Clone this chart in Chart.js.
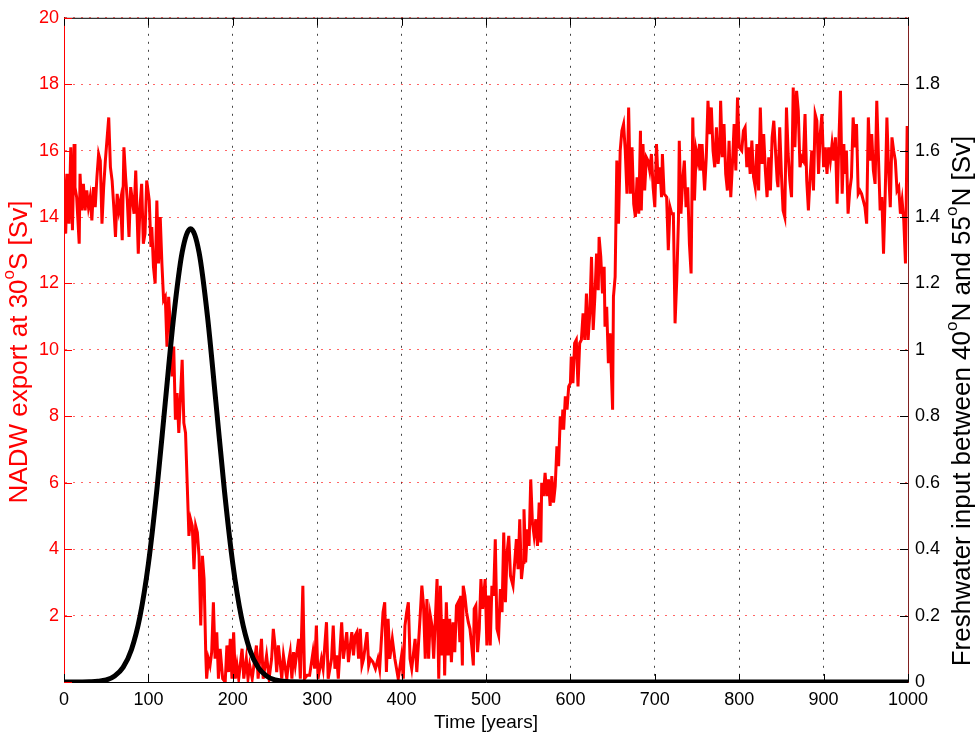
<!DOCTYPE html>
<html>
<head>
<meta charset="utf-8">
<script src="https://cdn.jsdelivr.net/npm/chart.js@4.4.1/dist/chart.umd.min.js"></script>
<style>
  body { margin: 0; background: #fff; }
  #wrap { width: 979px; height: 738px; position: relative; }
</style>
</head>
<body>
<div id="wrap"><canvas id="chart"></canvas></div>
<script>
// NADW export at 30S (Sv)
const nadwYears = [
  0, 2, 4, 6, 8, 10, 12, 13, 15, 18, 19, 21, 23, 25, 27, 29, 31, 33, 35, 37, 39, 41, 43, 45, 47, 49,
  53, 55, 57, 59, 61, 63, 65, 67, 69, 71, 73, 75, 77, 79, 81, 83, 85, 88, 90, 92, 94, 96, 98, 101,
  103, 104, 106, 108, 110, 112, 114, 116, 118, 120, 122, 124, 126, 128, 130, 132, 134, 136, 138, 140,
  142, 144, 148, 150, 152, 154, 156, 158, 160, 162, 164, 166, 168, 169, 171, 173, 175, 177, 179, 181,
  183, 185, 188, 191, 193, 195, 197, 199, 201, 203, 205, 207, 211, 213, 216, 218, 220, 223, 228, 230,
  234, 236, 240, 243, 246, 248, 250, 252, 254, 256, 258, 260, 264, 266, 268, 270, 272, 274, 278, 280,
  283, 285, 288, 291, 295, 297, 299, 301, 305, 307, 311, 313, 317, 319, 321, 323, 325, 329, 331, 335,
  337, 341, 343, 345, 347, 349, 351, 353, 355, 359, 361, 363, 366, 369, 372, 374, 378, 380, 382, 384,
  386, 389, 392, 396, 400, 402, 404, 406, 408, 410, 412, 416, 418, 422, 424, 426, 428, 430, 432, 434,
  436, 438, 440, 442, 444, 446, 448, 450, 451, 453, 455, 457, 459, 461, 463, 465, 467, 469, 470, 472,
  473, 475, 477, 479, 481, 483, 485, 486, 488, 490, 492, 494, 496, 499, 501, 503, 505, 507, 509, 511,
  513, 515, 517, 519, 521, 523, 525, 527, 529, 530, 532, 534, 536, 538, 540, 542, 544, 545, 547, 549,
  551, 553, 555, 557, 559, 561, 563, 565, 566, 568, 570, 572, 574, 576, 578, 580, 582, 584, 586, 588,
  590, 591, 592, 594, 596, 598, 600, 601, 603, 605, 607, 609, 611, 613, 615, 617, 619, 621, 623, 625,
  627, 629, 631, 633, 634, 636, 638, 640, 641, 643, 645, 647, 650, 651, 653, 655, 657, 659, 661, 663,
  665, 667, 669, 671, 673, 675, 677, 679, 681, 683, 684, 686, 688, 690, 692, 694, 696, 698, 700, 702,
  704, 706, 708, 709, 711, 714, 716, 718, 720, 722, 724, 726, 728, 729, 731, 733, 735, 737, 739, 741,
  743, 745, 747, 749, 751, 753, 754, 756, 759, 761, 763, 765, 767, 769, 771, 773, 775, 777, 778, 780,
  782, 784, 786, 788, 790, 792, 794, 796, 798, 800, 803, 805, 807, 809, 811, 813, 815, 817, 819, 821,
  823, 825, 827, 829, 831, 833, 835, 837, 839, 841, 843, 845, 846, 848, 850, 852, 854, 856, 858, 860,
  862, 864, 866, 868, 870, 872, 874, 876, 878, 880, 882, 884, 886, 888, 890, 892, 894, 896, 898, 900,
  902, 904, 906, 908, 910, 912, 914, 916, 918, 920, 922, 924, 925, 927, 929, 931, 933, 935, 937, 939,
  941, 943, 945, 947, 949, 951, 953, 955, 957, 959, 961, 963, 965, 967, 969, 971, 973, 975, 977, 979,
  981, 983, 985, 987, 989, 991, 993, 995, 997, 999, 1000
];
const nadwSv = [
  15.3, 13.5, 15.3, 13.8, 16.1, 13.6, 16.2, 14.9, 14.6, 13.2, 15.3, 14.2, 15.0, 14.2, 14.8, 14.3, 14.6, 13.9, 14.9, 14.3, 15.2, 15.9, 15.7, 13.8, 14.9, 15.7,
  17.0, 15.5, 15.1, 14.3, 13.4, 14.7, 14.2, 14.5, 13.3, 16.1, 15.2, 14.5, 13.4, 14.9, 14.5, 14.1, 15.4, 12.9, 14.3, 15.0, 13.2, 13.5, 15.1, 14.5,
  13.1, 13.7, 12.5, 12.0, 14.5, 12.6, 14.0, 12.6, 11.5, 11.6, 10.1, 11.6, 10.7, 9.2, 10.1, 7.9, 8.7, 7.5, 8.6, 9.7,
  7.8, 7.5, 4.4, 4.9, 4.7, 3.4, 4.7, 4.5, 3.8, 1.7, 3.8, 3.1, 0.8, 0.1, 0.7, 0.5, 0.9, 2.4, 0.7, 1.5,
  0.1, 1.0, 0.1, 0.0, 1.1, 0.3, 1.3, 0.1, 1.5, 0.1, 0.5, 0.1, 1.0, 0.1, 0.7, 0.1, 0.5, 0.1, 1.1, 0.1,
  1.3, 0.1, 0.8, 0.1, 0.7, 1.6, 1.1, 0.3, 1.1, 0.6, 0.1, 0.8, 0.1, 0.6, 0.9, 0.1, 0.9, 0.5, 1.3, 0.1,
  2.9, 0.1, 0.2, 0.2, 0.9, 0.4, 1.7, 0.1, 0.7, 0.4, 1.8, 0.1, 0.7, 1.7, 0.4, 0.8, 0.1, 1.8, 0.7, 1.5,
  0.6, 1.5, 0.8, 1.4, 1.5, 0.7, 1.6, 0.5, 0.7, 1.5, 0.5, 0.7, 0.6, 0.4, 0.7, 0.4, 2.1, 2.4, 0.3, 1.9,
  0.7, 1.3, 0.7, 0.1, 0.8, 0.1, 1.7, 2.1, 2.4, 0.7, 0.4, 1.3, 0.3, 2.0, 2.9, 2.3, 0.7, 2.5, 0.7, 2.0,
  1.7, 0.7, 1.9, 3.1, 0.1, 2.9, 0.8, 1.9, 0.2, 2.4, 0.8, 1.9, 0.6, 1.8, 0.9, 2.3, 2.4, 1.2, 2.6, 0.5,
  2.9, 2.6, 2.1, 1.8, 1.6, 1.1, 0.5, 2.2, 2.3, 0.9, 1.6, 3.1, 2.2, 3.1, 1.1, 2.6, 1.1, 2.9, 2.6, 4.3,
  1.6, 1.4, 2.8, 2.1, 4.5, 2.4, 3.9, 4.4, 3.2, 3.1, 2.9, 3.6, 4.3, 3.4, 4.9, 3.1, 3.6, 5.2, 3.6, 4.6,
  4.1, 6.1, 4.8, 4.4, 4.9, 4.1, 5.4, 4.2, 6.0, 5.6, 6.3, 5.6, 6.1, 5.3, 6.2, 5.4, 5.9, 7.1, 6.5, 8.0,
  7.6, 8.2, 7.6, 8.6, 8.2, 8.9, 9.0, 9.8, 9.0, 10.2, 10.3, 8.9, 10.2, 10.3, 11.1, 10.3, 11.7, 10.3, 11.1, 12.8,
  10.6, 11.6, 12.9, 11.8, 13.4, 12.8, 11.7, 12.5, 10.7, 11.3, 9.6, 10.5, 8.2, 11.6, 12.2, 15.7, 13.8, 16.0, 16.6, 16.8,
  16.0, 14.7, 17.3, 14.7, 16.1, 14.4, 14.0, 15.2, 14.1, 16.6, 14.2, 16.2, 14.8, 15.8, 15.7, 15.4, 15.9, 14.9, 14.3, 16.2,
  15.0, 15.5, 14.6, 15.9, 14.7, 14.6, 13.0, 14.3, 14.1, 14.1, 10.8, 12.1, 13.9, 16.3, 14.1, 15.1, 15.7, 14.3, 14.9, 13.2,
  12.3, 17.0, 14.5, 16.0, 15.7, 16.2, 15.4, 16.2, 14.8, 15.8, 17.5, 16.5, 17.3, 16.0, 15.5, 16.7, 15.6, 16.1, 17.5, 15.8,
  16.8, 15.3, 14.8, 16.3, 14.6, 15.6, 16.8, 15.4, 17.6, 16.1, 16.0, 16.6, 16.7, 15.5, 16.1, 15.3, 16.3, 15.2, 14.9, 16.2,
  14.8, 17.3, 15.6, 16.5, 15.4, 14.6, 15.8, 14.8, 16.4, 16.9, 16.0, 15.1, 14.9, 16.7, 15.3, 14.2, 14.0, 17.3, 15.9, 15.1,
  14.6, 17.9, 16.1, 17.8, 17.2, 15.5, 15.8, 15.7, 17.1, 15.1, 14.2, 15.2, 16.0, 14.8, 17.1, 16.9, 15.3, 16.5, 17.1, 15.5,
  16.1, 15.3, 16.1, 15.7, 16.2, 15.7, 16.4, 14.4, 16.2, 17.8, 14.7, 16.2, 15.3, 16.0, 14.1, 14.8, 15.2, 17.0, 16.1, 16.8,
  14.7, 14.8, 14.7, 14.5, 14.3, 13.8, 17.0, 15.7, 16.5, 15.4, 15.0, 17.5, 15.8, 14.2, 14.6, 12.9, 14.7, 17.0, 15.4, 14.3,
  16.4, 16.0, 15.7, 14.8, 14.9, 14.1, 14.5, 13.9, 12.6, 16.7, 16.7
];

// freshwater input between 40N and 55N (Sv)
const fwYears = [0, 30, 40, 50, 60, 70, 80, 90, 100, 110, 120, 130, 140, 150, 160, 170, 180, 190, 200, 210, 220, 230, 240, 250, 260, 270, 300, 1000];
const fwSv = [0, 0.001, 0.002, 0.006, 0.018, 0.044, 0.098, 0.197, 0.356, 0.578, 0.842, 1.101, 1.294, 1.365, 1.294, 1.101, 0.842, 0.578, 0.356, 0.197, 0.098, 0.044, 0.018, 0.006, 0.002, 0.001, 0, 0];

const FONT = "'Liberation Sans', Arial, sans-serif";

function drawVerticalTitle(ctx, parts, x, y, color, size) {
  ctx.save();
  ctx.translate(x, y);
  ctx.rotate(-Math.PI / 2);
  ctx.fillStyle = color;
  ctx.textBaseline = "middle";
  ctx.textAlign = "left";
  let total = 0;
  parts.forEach(p => {
    ctx.font = (p.sup ? Math.round(size * 0.65) : size) + "px " + FONT;
    total += ctx.measureText(p.t).width;
  });
  let pos = -total / 2;
  parts.forEach(p => {
    ctx.font = (p.sup ? Math.round(size * 0.65) : size) + "px " + FONT;
    ctx.fillText(p.t, pos, p.sup ? -size * 0.42 : 0);
    pos += ctx.measureText(p.t).width;
  });
  ctx.restore();
}

const frame = {
  id: "frame",
  afterDraw(chart) {
    const ctx = chart.ctx;
    const a = chart.chartArea;
    const sx = chart.scales.x, sy = chart.scales.y, sy1 = chart.scales.y1;
    ctx.save();
    ctx.lineWidth = 1;
    // top border
    ctx.strokeStyle = "#000";
    ctx.beginPath();
    ctx.moveTo(a.left, a.top + 0.5);
    ctx.lineTo(a.right, a.top + 0.5);
    ctx.stroke();
    // inward ticks on x
    sx.ticks.forEach(t => {
      const px = Math.round(sx.getPixelForValue(t.value)) + 0.5;
      ctx.beginPath();
      ctx.moveTo(px, a.bottom); ctx.lineTo(px, a.bottom - 8);
      ctx.moveTo(px, a.top); ctx.lineTo(px, a.top + 8);
      ctx.stroke();
    });
    // right ticks
    sy1.ticks.forEach(t => {
      const py = Math.round(sy1.getPixelForValue(t.value)) + 0.5;
      ctx.beginPath();
      ctx.moveTo(a.right, py); ctx.lineTo(a.right - 8, py);
      ctx.stroke();
    });
    // left ticks
    ctx.strokeStyle = "#ff0000";
    sy.ticks.forEach(t => {
      const py = Math.round(sy.getPixelForValue(t.value)) + 0.5;
      ctx.beginPath();
      ctx.moveTo(a.left, py); ctx.lineTo(a.left + 8, py);
      ctx.stroke();
    });
    ctx.restore();

    drawVerticalTitle(ctx, [{t: "NADW export at 30"}, {t: "o", sup: true}, {t: "S [Sv]"}], 20, 352, "#ff0000", 26);
    drawVerticalTitle(ctx, [{t: "Freshwater input between 40"}, {t: "o", sup: true}, {t: "N and 55"}, {t: "o", sup: true}, {t: "N [Sv]"}], 963, 401, "#000", 26);
  }
};

const chart = new Chart("chart", {
  type: "line",
  data: {
    datasets: [
      {
        label: "freshwater",
        data: fwYears.map((x, i) => ({x: x, y: fwSv[i]})),
        yAxisID: "y1",
        borderColor: "#000",
        borderWidth: 5,
        cubicInterpolationMode: "monotone",
        order: 0
      },
      {
        label: "NADW",
        data: nadwYears.map((x, i) => ({x: x, y: nadwSv[i]})),
        yAxisID: "y",
        borderColor: "#ff0000",
        borderWidth: 3,
        order: 1
      }
    ]
  },
  options: {
    responsive: true,
    maintainAspectRatio: false,
    animation: false,
    layout: {padding: {top: 17, left: 0, right: 0, bottom: 0}},
    plugins: {
      legend: {display: false},
      tooltip: {enabled: false}
    },
    elements: {
      point: {radius: 0},
      line: {tension: 0}
    },
    scales: {
      x: {
        type: "linear",
        min: 0,
        max: 1000,
        ticks: {stepSize: 100, color: "#000", padding: 7, font: {family: FONT, size: 18}, maxRotation: 0,
          callback: v => String(v)},
        grid: {color: "#444", lineWidth: 1, drawTicks: false},
        border: {color: "#000", width: 1, dash: [2, 6]},
        title: {display: true, text: "Time [years]", color: "#000", font: {family: FONT, size: 19}, padding: {top: 0}},
        afterFit: s => { s.height = 56; }
      },
      y: {
        position: "left",
        min: 0,
        max: 20,
        ticks: {stepSize: 2, color: "#ff0000", padding: 5, font: {family: FONT, size: 18},
          callback: v => v === 0 ? "" : v},
        grid: {color: "rgba(255,0,0,0.6)", lineWidth: 1, drawTicks: false},
        border: {color: "#ff0000", width: 1, dash: [2, 6]},
        afterFit: s => { s.width = 64; }
      },
      y1: {
        position: "right",
        min: 0,
        max: 2,
        ticks: {stepSize: 0.2, color: "#000", padding: 7, font: {family: FONT, size: 18},
          callback: v => v >= 1.99 ? "" : String(+v.toFixed(1))},
        grid: {drawOnChartArea: false, drawTicks: false},
        border: {color: "#802020", width: 1},
        afterFit: s => { s.width = 71; }
      }
    }
  },
  plugins: [frame]
});
</script>
</body>
</html>
